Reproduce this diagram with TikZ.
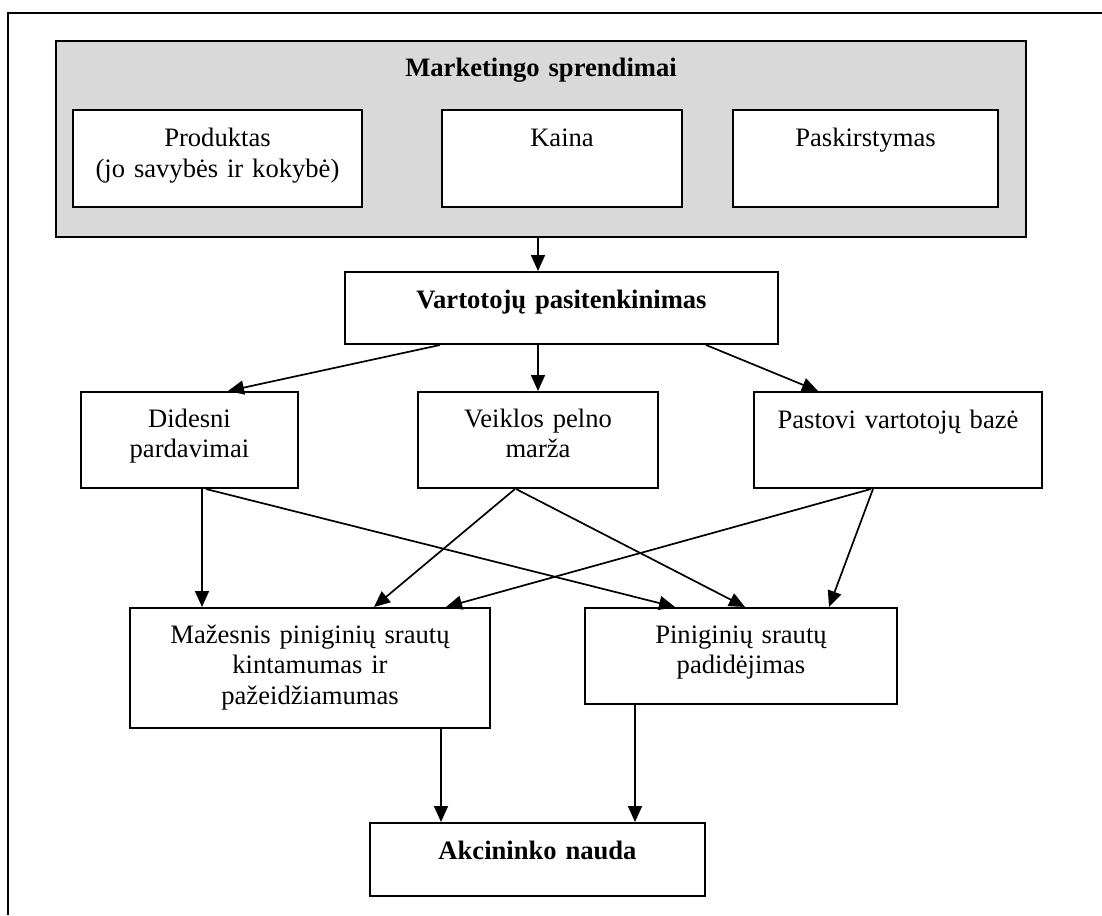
\documentclass[tikz,border=0pt]{standalone}
\usepackage{fontspec}
\setmainfont{Liberation Serif}
\usetikzlibrary{fit,arrows.meta}
\definecolor{panelgray}{RGB}{217,217,217}
\newcommand\lblsize{\fontsize{13.3pt}{15.25pt}\selectfont}
\begin{document}
\begin{tikzpicture}[x=0.5pt,y=-0.5pt,
  box/.style={draw, line width=1pt, inner sep=0pt, fill=white},
  panel/.style={draw, line width=1pt, inner sep=0pt, fill=panelgray},
  lbl/.style={inner sep=0pt, anchor=base, align=center, text width=190pt, font=\lblsize},
  blbl/.style={lbl, font=\lblsize\bfseries},
  conn/.style={line width=0.85pt, -{Triangle[length=8pt,width=7pt]}},
]
\useasboundingbox (0,0) rectangle (1102,915);

% page frame (top and left edges)
\draw[line width=1pt] (8,915) -- (8,13) -- (1102,13);

% column positions used for connector end points
\foreach \x in {202,206,228,374,440,441,446,515,516,538,635,675,706,745,818,829,871,873}
  \coordinate (c\x) at (\x,0);

% marketing decisions panel
\node[panel, fit={(56,41) (1026,237)}] (mkt) {};
\node[blbl] (mkt-t) at (541,77) {Marketingo sprendimai};
\node[box, fit={(73,110) (362,207)}] (prod) {};
\node[lbl] (prod-t) at (217.5,147) {Produktas\\(jo savybės ir kokybė)};
\node[box, fit={(442,110) (682,207)}] (kaina) {};
\node[lbl] (kaina-t) at (562,147) {Kaina};
\node[box, fit={(733,110) (998,207)}] (pask) {};
\node[lbl] (pask-t) at (865.5,147) {Paskirstymas};

% customer satisfaction
\node[box, fit={(345,272) (778,344)}] (vart) {};
\node[blbl] (vart-t) at (561.5,308) {Vartotojų pasitenkinimas};

% effects
\node[box, fit={(81,392) (298,488)}] (did) {};
\node[lbl] (did-t) at (189.5,427) {Didesni\\pardavimai};
\node[box, fit={(418,392) (658,488)}] (veik) {};
\node[lbl] (veik-t) at (538,427) {Veiklos pelno\\marža};
\node[box, fit={(754,392) (1042,488)}] (past) {};
\node[lbl] (past-t) at (898,428) {Pastovi vartotojų bazė};

% cash flows
\node[box, fit={(130,608) (490,728)}] (maz) {};
\node[lbl] (maz-t) at (310,643) {Mažesnis piniginių srautų\\kintamumas ir\\pažeidžiamumas};
\node[box, fit={(585,608) (897,704)}] (pin) {};
\node[lbl] (pin-t) at (741,643) {Piniginių srautų\\padidėjimas};

% shareholder value
\node[box, fit={(370,823) (705,896)}] (akc) {};
\node[blbl] (akc-t) at (537.5,859) {Akcininko nauda};

% connectors
\draw[conn] (mkt.south -| c538) -- (vart.north -| c538);
\draw[conn] (vart.south -| c440) -- (did.north -| c228);
\draw[conn] (vart.south -| c538) -- (veik.north -| c538);
\draw[conn] (vart.south -| c706) -- (past.north -| c818);
\draw[conn] (did.south -| c202) -- (maz.north -| c202);
\draw[conn] (did.south -| c206) -- (pin.north -| c675);
\draw[conn] (veik.south -| c515) -- (maz.north -| c374);
\draw[conn] (veik.south -| c516) -- (pin.north -| c745);
\draw[conn] (past.south -| c871) -- (maz.north -| c446);
\draw[conn] (past.south -| c873) -- (pin.north -| c829);
\draw[conn] (maz.south -| c441) -- (akc.north -| c441);
\draw[conn] (pin.south -| c635) -- (akc.north -| c635);
\end{tikzpicture}
\end{document}
